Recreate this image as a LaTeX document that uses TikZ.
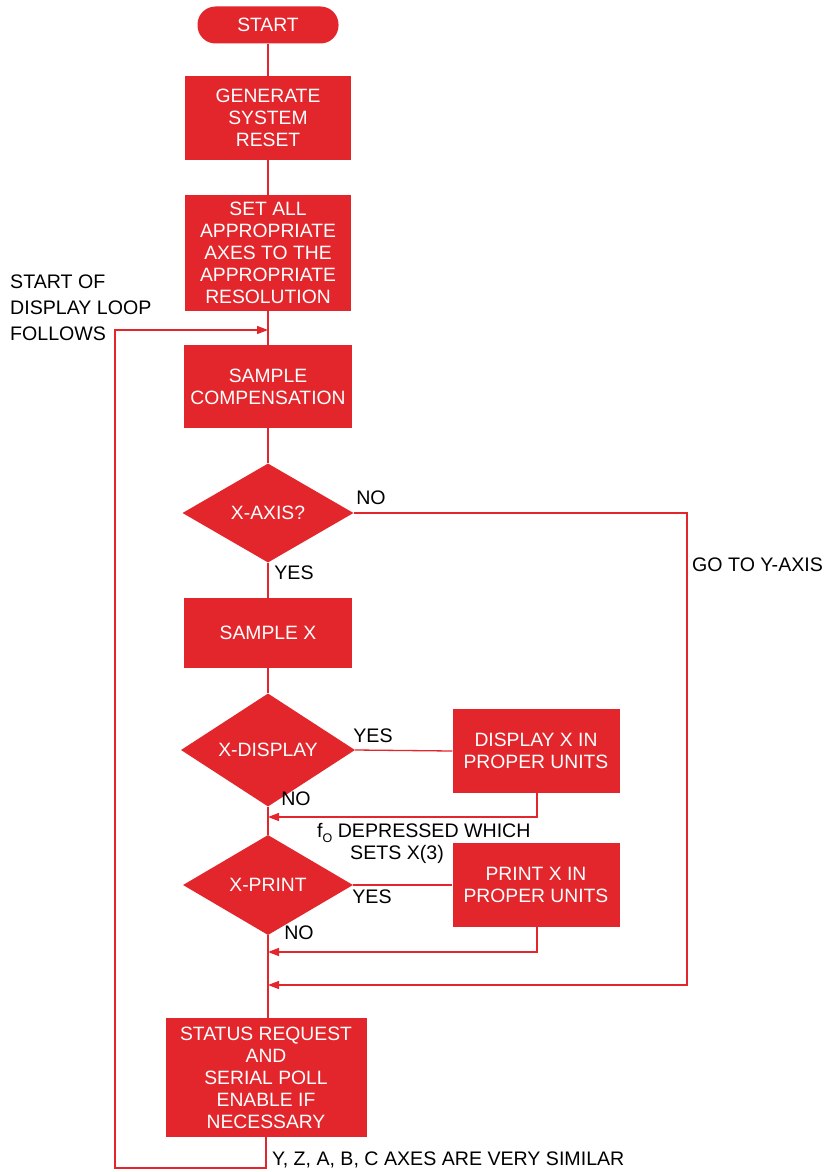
\documentclass[tikz,border=0pt]{standalone}
\usepackage{fontspec}
\setmainfont{Liberation Sans}
\usetikzlibrary{shapes.geometric,arrows.meta}
\definecolor{hpred}{RGB}{226,38,44}
\begin{document}
\begin{tikzpicture}[x=1pt,y=-1pt,
 box/.style={rectangle, fill=hpred, text=white, inner sep=0pt, align=center, font=\fontsize{19.3}{22}\selectfont},
 dec/.style={diamond, fill=hpred, text=white, inner sep=0pt, font=\fontsize{19.3}{22}\selectfont},
 lbl/.style={text=black, inner sep=0pt, font=\fontsize{19.6}{26}\selectfont},
 line/.style={draw=hpred, line width=1.3pt},
 arr/.style={line, -{Triangle[length=11pt,width=8pt]}}]
\useasboundingbox[fill=white] (0,0) rectangle (831,1172);

\node[box, rounded corners=18pt, minimum width=141pt, minimum height=37pt] (start) at (268,25) {START};
\node[box, minimum width=166pt, minimum height=84pt] (reset) at (268,118) {GENERATE\\SYSTEM\\RESET};
\node[box, minimum width=166pt, minimum height=116pt] (setaxes) at (268,253) {SET ALL\\APPROPRIATE\\AXES TO THE\\APPROPRIATE\\RESOLUTION};
\node[box, minimum width=168pt, minimum height=83pt] (sampcomp) at (268,386.5) {SAMPLE\\COMPENSATION};
\node[dec, minimum width=171pt, minimum height=99pt] (xaxis) at (268,513) {X-AXIS?};
\node[box, minimum width=168pt, minimum height=70pt] (samplex) at (268,633) {SAMPLE X};
\node[dec, minimum width=174pt, minimum height=100pt] (xdisp) at (268,750) {X-DISPLAY};
\node[box, minimum width=167pt, minimum height=84pt] (dispx) at (536,751) {DISPLAY X IN\\PROPER UNITS};
\node[dec, minimum width=170pt, minimum height=100pt] (xprint) at (268,885) {X-PRINT};
\node[box, minimum width=167pt, minimum height=84pt] (printx) at (536,885) {PRINT X IN\\PROPER UNITS};
\node[box, minimum width=201pt, minimum height=119pt] (status) at (266,1077.5) {STATUS REQUEST\\AND\\SERIAL POLL\\ENABLE IF\\NECESSARY};

% labels
\node[lbl, anchor=west, align=left] (loopl) at (10,308) {START OF\\DISPLAY LOOP\\FOLLOWS};
\node[lbl] (noa) at (371,498) {NO};
\node[lbl] (yesa) at (294,573) {YES};
\node[lbl, anchor=west] (goy) at (692,565) {GO TO Y-AXIS};
\node[lbl] (yesd) at (373,736) {YES};
\node[lbl] (nod) at (296,799) {NO};
\node[lbl, anchor=base west] (fo1) at (317,837) {f\raisebox{-5pt}{\fontsize{12.5}{12}\selectfont O} DEPRESSED WHICH};
\node[lbl, anchor=base west] (fo2) at (350,859) {SETS X(3)};
\node[lbl] (yesp) at (372,897) {YES};
\node[lbl] (nop) at (299,933) {NO};
\node[lbl, anchor=west] (sim) at (272,1160) {Y, Z, A, B, C AXES ARE VERY SIMILAR};

% junctions on main line
\coordinate (jloop) at (268,330);
\coordinate (jdisp) at (268,817);
\coordinate (jprint) at (268,952);
\coordinate (jy) at (268,985);
\coordinate (lb) at (115,1168);
\coordinate (ya) at (687,513);
\coordinate (yb) at (687,985);
\coordinate (da) at (537,817);
\coordinate (pa) at (537,952);

% main flow
\draw[line] (start) -- (reset);
\draw[line] (reset) -- (setaxes);
\draw[line] (setaxes) -- (sampcomp);
\draw[line] (sampcomp) -- (xaxis);
\draw[line] (xaxis) -- (samplex);
\draw[line] (samplex) -- (xdisp);
\draw[line] (xdisp) -- (xprint);
\draw[line] (xprint.south) -- (xprint.south |- status.north);

% branches
\draw[line] (xdisp.east) -- (dispx.west);
\draw[arr] (dispx.south -| da) -- (da) -- (jdisp);
\draw[line] (xprint.east) -- (printx.west);
\draw[arr] (printx.south -| pa) -- (pa) -- (jprint);
\draw[arr] (xaxis.east) -- (ya) -- (yb) -- (jy);
\draw[arr] (status.south) |- (lb) |- (jloop);
\end{tikzpicture}
\end{document}
